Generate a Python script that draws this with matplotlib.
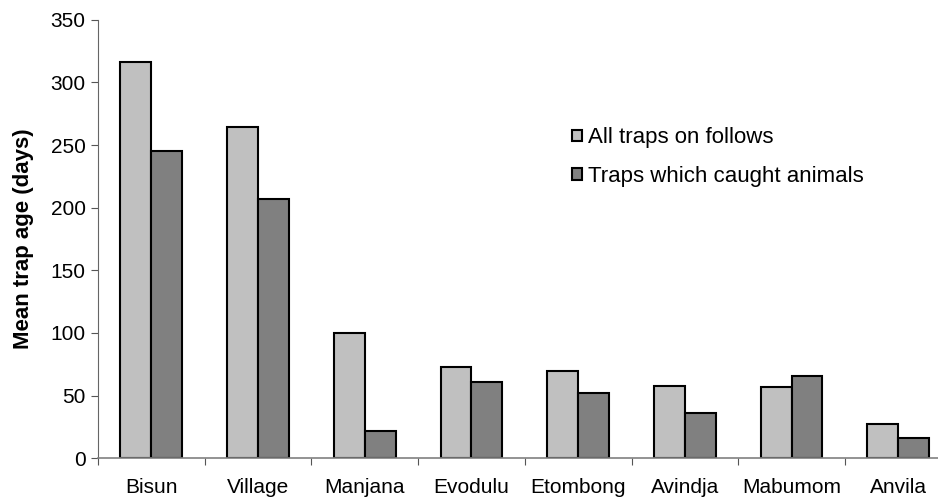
import numpy as np
import matplotlib
matplotlib.use('Agg')
from matplotlib import pyplot as plt

villages = ['Bisun', 'Village', 'Manjana', 'Evodulu', 'Etombong', 'Avindja', 'Mabumom', 'Anvila']
all_traps = [316, 264, 100, 73, 70, 58, 57, 27]
caught_traps = [245, 207, 22, 61, 52, 36, 66, 16]

plt.rcParams['font.family'] = ['Liberation Sans', 'DejaVu Sans']

fig = plt.figure(figsize=(9.38, 5), dpi=100)
ax = fig.add_axes([0.1045, 0.0834, 0.91, 0.8772])

x = np.arange(len(villages))
w = 0.29
ax.bar(x - w/2, all_traps, w, color='#c0c0c0', edgecolor='black', linewidth=1.5,
       label='All traps on follows')
ax.bar(x + w/2, caught_traps, w, color='#808080', edgecolor='black', linewidth=1.5,
       label='Traps which caught animals')

ax.set_xlim(-0.5, 7.5)
ax.set_ylim(0, 350)
ax.set_yticks(range(0, 351, 50))

# ticks between groups, labels centred under groups
ax.set_xticks(np.arange(-0.5, 8, 1))
ax.set_xticklabels([])
ax.set_xticks(x, minor=True)
ax.set_xticklabels(villages, minor=True)
ax.tick_params(axis='x', which='major', length=5, direction='out', color='#555555')
ax.tick_params(axis='x', which='minor', length=0, pad=14, labelsize=15)
ax.tick_params(axis='y', length=5, color='#555555', labelsize=15, pad=4)

for s in ['top', 'right']:
    ax.spines[s].set_visible(False)
ax.spines['left'].set_color('#666666')
ax.spines['bottom'].set_color('#808080')
ax.spines['bottom'].set_linewidth(1.2)

ax.set_ylabel('Mean trap age (days)', fontsize=16, fontweight='bold', labelpad=12)

ax.legend(loc='upper left', bbox_to_anchor=(0.532, 0.80), frameon=False, fontsize=16,
          handlelength=0.45, handleheight=0.45, handletextpad=0.25, labelspacing=0.8)

plt.savefig('out.png', dpi=100)
